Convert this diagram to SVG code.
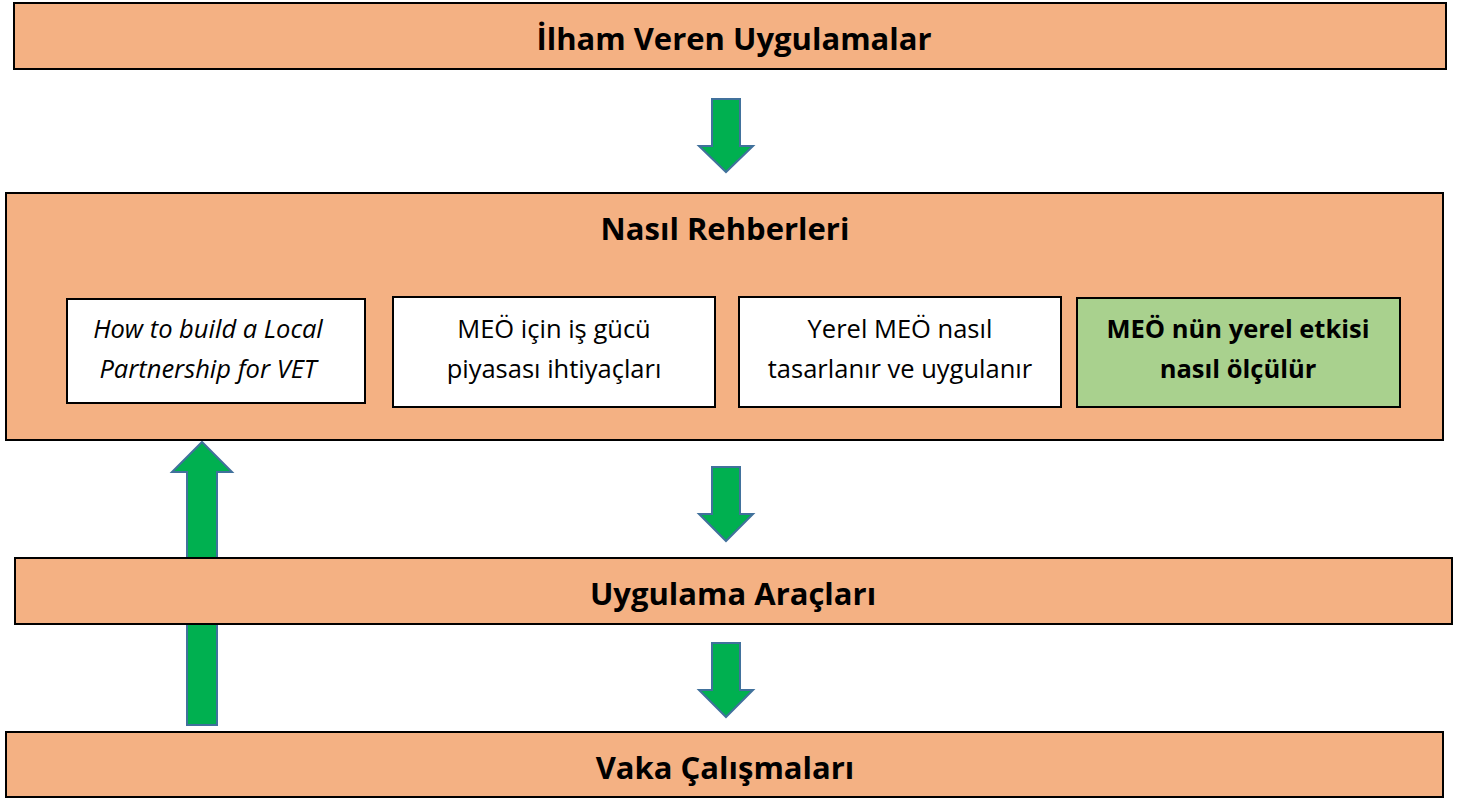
<svg xmlns="http://www.w3.org/2000/svg" width="1461" height="801" viewBox="0 0 1461 801">
<style>
.band{fill:#F4B183;stroke:#000;stroke-width:2}
.card{fill:#fff;stroke:#000;stroke-width:2}
.green{fill:#A9D18E;stroke:#000;stroke-width:2}
.arrow{fill:#00B050;stroke:#41719C;stroke-width:2;stroke-linejoin:miter}
.t{font-family:"Open Sans","Liberation Sans",sans-serif;fill:#000;text-anchor:middle}
.h{font-size:31px;font-weight:bold}
.s{font-size:25.5px}
</style>
<rect width="1461" height="801" fill="#fff"/>
<g id="connectors">
<path class="arrow" d="M712,99 H740 V146 H753 L726,172 L699,146 H712 Z"/>
<path class="arrow" d="M712,467 H740 V514 H753 L726,541 L699,514 H712 Z"/>
<path class="arrow" d="M712,643 H740 V690 H753 L726,717 L699,690 H712 Z"/>
<path class="arrow" d="M187,725 V472 H172 L202,442 L232,472 H217 V725 Z"/>
</g>
<g id="ilham">
<rect class="band" x="14" y="3" width="1432" height="66"/>
<text class="t h" x="734" y="50">İlham Veren Uygulamalar</text>
</g>
<g id="nasil">
<rect class="band" x="6" y="193" width="1437" height="247"/>
<text class="t h" x="725" y="240">Nasıl Rehberleri</text>
</g>
<g id="howto">
<rect class="card" x="67" y="299" width="298" height="104"/>
<text class="t s" x="208" y="338" font-style="italic">How to build a Local</text>
<text class="t s" x="208" y="378" font-style="italic">Partnership for VET</text>
</g>
<g id="isgucu">
<rect class="card" x="393" y="297" width="322" height="110"/>
<text class="t s" x="554" y="338">MEÖ için iş gücü</text>
<text class="t s" x="554" y="378">piyasası ihtiyaçları</text>
</g>
<g id="yerel">
<rect class="card" x="739" y="297" width="322" height="110"/>
<text class="t s" x="900" y="338">Yerel MEÖ nasıl</text>
<text class="t s" x="900" y="378">tasarlanır ve uygulanır</text>
</g>
<g id="etki">
<rect class="green" x="1077" y="298" width="323" height="109"/>
<text class="t s" x="1238" y="338" font-weight="bold">MEÖ nün yerel etkisi</text>
<text class="t s" x="1238" y="378" font-weight="bold">nasıl ölçülür</text>
</g>
<g id="uygulama">
<rect class="band" x="15" y="558" width="1437" height="66"/>
<text class="t h" x="733" y="605">Uygulama Araçları</text>
</g>
<g id="vaka">
<rect class="band" x="6" y="732" width="1437" height="65"/>
<text class="t h" x="725" y="779">Vaka Çalışmaları</text>
</g>
</svg>
